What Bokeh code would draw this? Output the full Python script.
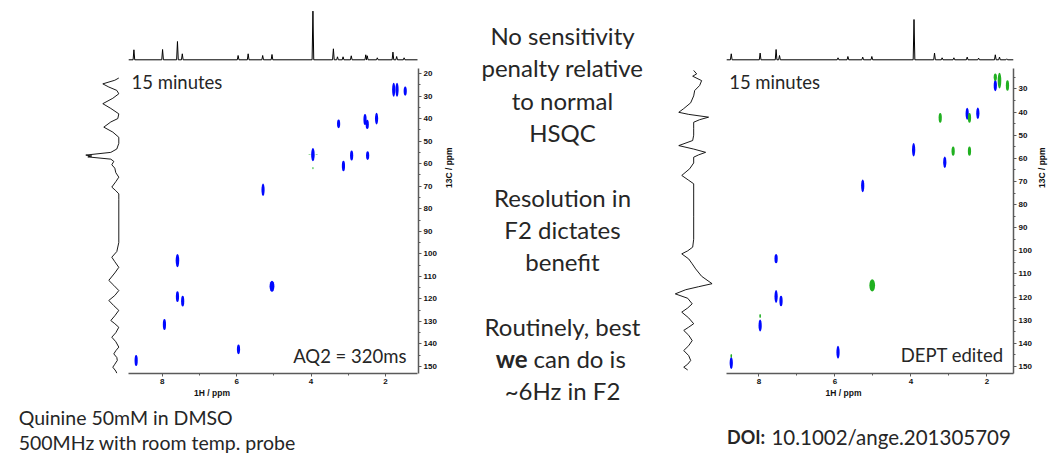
import numpy as np
from bokeh.plotting import figure
from bokeh.models import Range1d, LinearAxis, SingleIntervalTicker
from bokeh.layouts import row, column
from bokeh.embed import file_html
from bokeh.resources import INLINE
from bokeh.core.properties import value

# ------------------------------------------------------------------
# Quinine, 50 mM in DMSO -- HSQC (left) and DEPT-edited HSQC (right)
# ------------------------------------------------------------------

# HSQC cross peaks: 1H shift, 13C shift, F2 extent, F1 extent (ppm)
hsqc_h = [3.26, 2.55, 2.49, 2.24, 3.95, 2.91, 3.13, 2.48, 5.29, 1.78, 1.69, 1.47,
          7.59, 7.59, 7.45, 7.94, 8.70, 5.95, 5.05]
hsqc_c = [42.3, 40.4, 42.6, 40.0, 56.0, 56.4, 61.0, 56.4, 71.6, 27.2, 27.2, 27.8,
          103.0, 119.0, 121.0, 131.4, 147.3, 142.4, 114.4]
hsqc_dh = [0.085, 0.085, 0.085, 0.085, 0.095, 0.085, 0.085, 0.085, 0.085, 0.085, 0.085, 0.085,
           0.095, 0.085, 0.085, 0.085, 0.085, 0.085, 0.13]
hsqc_dc = [3.9, 4.9, 4.1, 5.2, 5.8, 4.4, 4.7, 3.9, 5.5, 6.2, 6.2, 4.1,
           5.9, 4.7, 4.7, 4.9, 4.9, 4.3, 4.9]
# weak negative artefacts around the OCH3 peak
hsqc_neg_h = [4.04, 3.85, 3.95]
hsqc_neg_c = [56.0, 56.0, 62.0]
hsqc_neg_dh = [0.07, 0.07, 0.04]
hsqc_neg_dc = [0.4, 0.4, 1.0]

# DEPT-edited: CH / CH3 (positive, blue)
dept_pos_h = [1.78, 2.52, 2.24, 3.93, 3.11, 5.27, 7.55, 7.55, 7.42, 7.97, 5.92, 8.73]
dept_pos_c = [28.5, 40.7, 40.5, 56.3, 61.7, 71.9, 103.4, 119.7, 121.7, 132.3, 143.8, 148.5]
dept_pos_dh = [0.085] * 12
dept_pos_dc = [4.9, 5.2, 4.9, 5.8, 5.0, 5.5, 4.0, 5.5, 4.6, 5.2, 5.5, 5.2]
# DEPT-edited: CH2 (negative, green)
dept_neg_h = [1.78, 1.67, 1.46, 3.23, 2.46, 2.89, 2.46, 5.02, 7.97, 8.73]
dept_neg_c = [24.9, 26.4, 28.5, 42.5, 42.5, 56.9, 56.9, 114.9, 128.2, 145.4]
dept_neg_dh = [0.085, 0.095, 0.085, 0.085, 0.085, 0.085, 0.085, 0.15, 0.045, 0.045]
dept_neg_dc = [3.2, 6.9, 4.6, 4.3, 4.3, 4.0, 4.0, 5.3, 1.7, 1.7]

# 1H (F2) projections: peak shifts and heights
f2_left_ppm = [8.76, 7.99, 7.59, 7.46, 5.96, 5.69, 5.30, 5.05, 3.95, 3.40, 3.29,
               3.14, 2.92, 2.53, 2.49, 2.22, 1.80, 1.70, 1.50]
f2_left_int = [10.0, 10.3, 18.3, 6.0, 4.3, 6.0, 4.3, 5.3, 48.7, 11.0, 3.0,
               3.0, 4.0, 5.0, 4.0, 2.0, 7.7, 3.3, 2.0]
f2_right_ppm = [8.73, 7.97, 7.55, 7.46, 5.92, 5.66, 5.27, 5.03, 3.92, 3.38, 3.18,
                2.87, 2.52, 2.22, 1.78, 1.67, 1.48]
f2_right_int = [6.0, 6.7, 10.3, 4.3, 2.0, 3.3, 2.7, 3.3, 40.3, 6.7, 2.0,
                2.0, 2.7, 1.7, 5.0, 2.7, 1.0]

# 13C (F1) projections: shift and intensity
f1_left_ppm = [22.0, 23.0, 24.6, 26.0, 27.5, 29.0, 31.0, 33.4, 35.5, 37.9, 40.0, 41.5,
               43.8, 46.0, 48.3, 51.0, 53.5, 55.0, 56.2, 56.6, 57.0, 58.0, 59.0, 60.5,
               62.0, 64.0, 66.0, 68.0, 70.4, 72.0, 73.4, 76.0, 85.0, 95.0, 99.0, 101.5,
               103.5, 106.0, 108.5, 111.8, 114.0, 116.3, 118.5, 120.7, 123.0, 125.1,
               127.5, 129.6, 131.0, 132.6, 135.0, 137.0, 139.0, 141.4, 143.0, 144.4,
               146.0, 147.3, 149.0, 150.3, 152.0, 153.0]
f1_left_int = [0, 4, 16, 10, 2, 0, 6, 16, 8, 0, 1, 8,
               15, 6, 0, 0, 2, 8, 33, 27, 31, 8, 5, 7,
               4, 3, 0, 3, 7, 3, 0, 0, 0, 0, 2, 7,
               4, 0, 4, 10, 5, 0, 4, 10, 5, 0,
               4, 8, 4, 0, 3, 7, 3, 0, 3, 5,
               2, 1.5, 4, 6, 3, 2]
f1_right_ppm = [22.0, 23.5, 24.5, 26.4, 28.5, 30.7, 33.0, 36.0, 38.5, 40.1, 41.0, 42.2,
                43.3, 44.4, 47.0, 50.0, 52.3, 54.5, 56.0, 57.4, 58.5, 59.5, 62.0, 64.5,
                67.4, 69.5, 71.0, 75.0, 85.0, 95.0, 98.4, 100.0, 101.3, 103.5, 105.6,
                107.8, 111.0, 114.2, 115.5, 116.8, 118.6, 120.5, 122.9, 124.7, 126.5,
                129.0, 131.5, 133.0, 134.4, 136.5, 138.8, 141.0, 143.1, 145.3, 147.4,
                149.0, 150.3, 151.5]
f1_right_int = [0, -3, 1, -8, -6, -1, 0, 3, 10, 15, 5, -15,
                -6, 0, 0, 0, 1, 15, 0, -12, -5, 0, 0, 4,
                12, 5, 0, 0, 0, 0, 1, 6, 12, 5, 1.5,
                -2, -8, -18.5, -5, 8, 18.5, 6, 1.5, 6, 12,
                5, 0, 5, 10, 5, 1.5, 5, 10, 5, 3,
                6, 10, 6]

# spectral windows shown on each panel (1H, 13C)
left_f2_lim, left_f1_lim = (1.14, 8.90), (17.8, 153.1)
right_f2_lim, right_f1_lim = (1.30, 8.85), (21.3, 153.0)

mid_lines = ["No sensitivity", "penalty relative", "to normal", "HSQC", "",
             "Resolution in", "F2 dictates", "benefit", "",
             "Routinely, best", None, "~6Hz in F2"]
mid_mixed = ("we", "can do is")

# ------------------------------------------------------------------
TEXT = "#262626"
BLUE = "#0008ff"
GREEN = "#20b020"
AXIS = "#5a5a5a"
BODY_FONT = "Lato"
AX_FONT = "Liberation Sans"
PANEL_H = 405
NOTE_H = 458 - PANEL_H
FRAME_T, FRAME_B = 2, 373


def lin_range(v1, p1, v2, p2, pa, pb):
    k = (v2 - v1) / (p2 - p1)
    return Range1d(v1 + (pa - p1) * k, v1 + (pb - p1) * k)


def stick_trace(ppm, inten, lim, hw=0.022):
    order = np.argsort(ppm)[::-1]
    xs, ys = [lim[1]], [0.0]
    for i in order:
        xs += [ppm[i] + hw, ppm[i], ppm[i] - hw]
        ys += [0.0, inten[i], 0.0]
    xs.append(lim[0])
    ys.append(0.0)
    return xs, ys


def style_axis(ax, label):
    ax.axis_label = label
    ax.axis_line_color = AXIS
    ax.axis_line_width = 1.5
    ax.major_tick_line_color = AXIS
    ax.minor_tick_line_color = AXIS
    ax.major_tick_in = 0
    ax.major_tick_out = 3
    ax.minor_tick_in = 0
    ax.minor_tick_out = 2
    ax.major_label_standoff = 2
    ax.major_label_text_font = AX_FONT
    ax.major_label_text_font_style = "bold"
    ax.major_label_text_font_size = "8px"
    ax.major_label_text_color = "#111111"
    ax.axis_label_text_font = AX_FONT
    ax.axis_label_text_font_style = "bold"
    ax.axis_label_text_font_size = "8.5px"
    ax.axis_label_text_color = "#111111"


def panel(width, frame_l, frame_r, f2_anchor, f1_anchor, f2_lim, f1_lim,
          top_base, side_base, f1_label_standoff):
    p = figure(width=width, height=PANEL_H, output_backend="svg",
               toolbar_location=None, x_axis_location=None, y_axis_location=None,
               min_border_left=frame_l, min_border_right=width - frame_r,
               min_border_top=FRAME_T, min_border_bottom=PANEL_H - FRAME_B)
    p.outline_line_color = None
    p.grid.visible = False
    (h1, px1), (h2, px2) = f2_anchor
    (c1, py1), (c2, py2) = f1_anchor
    p.x_range = lin_range(h1, px1, h2, px2, frame_l, frame_r)
    p.y_range = lin_range(c1, py1, c2, py2, FRAME_B, FRAME_T)
    p.extra_y_ranges = {
        "proj_top": lin_range(0, top_base, 1, top_base - 1, FRAME_B, FRAME_T),
        "py": Range1d(FRAME_B, FRAME_T),
    }
    p.extra_x_ranges = {
        "proj_side": lin_range(0, side_base, 1, side_base - 1, frame_l, frame_r),
        "px": Range1d(frame_l, frame_r),
    }

    xax = LinearAxis(bounds=tuple(f2_lim),
                     ticker=SingleIntervalTicker(interval=2, num_minor_ticks=2))
    style_axis(xax, "1H / ppm")
    xax.axis_label_standoff = 1
    p.add_layout(xax, "below")

    yax = LinearAxis(bounds=tuple(f1_lim),
                     ticker=SingleIntervalTicker(interval=10, num_minor_ticks=2))
    style_axis(yax, "13C / ppm")
    yax.axis_label_standoff = f1_label_standoff
    yax.axis_label_orientation = np.pi / 2
    p.add_layout(yax, "right")
    return p


def draw_peaks(p, h, c, dh, dc, color, alpha=1.0):
    p.ellipse(x=h, y=c, width=dh, height=dc, fill_color=color, line_color=None,
              fill_alpha=alpha)


def panel_text(p, x, y, txt, align="left", size="18px"):
    p.text(x=[x], y=[y], text=[txt], x_range_name="px", y_range_name="py",
           text_align=align, text_baseline="middle", text_font=value(BODY_FONT),
           text_font_size=size, text_color=TEXT)


# ---------------- left panel: HSQC ----------------
left = panel(470, 5, 418, ((8, 161.7), (2, 385.0)), ((20, 73.0), (150, 366.0)),
             left_f2_lim, left_f1_lim, 59.3, 118.3, 9)
xs, ys = stick_trace(f2_left_ppm, f2_left_int, left_f2_lim)
left.line(xs, ys, y_range_name="proj_top", line_color="black", line_width=1)
left.line(f1_left_int, f1_left_ppm, x_range_name="proj_side", line_color="black",
          line_width=0.9)
draw_peaks(left, hsqc_h, hsqc_c, hsqc_dh, hsqc_dc, BLUE)
draw_peaks(left, hsqc_neg_h, hsqc_neg_c, hsqc_neg_dh, hsqc_neg_dc, GREEN, 0.7)
panel_text(left, 131, 81.7, "15 minutes", size="18.5px")
panel_text(left, 406, 355, "AQ2 = 320ms", align="right", size="18.5px")

# ---------------- right panel: DEPT-edited HSQC ----------------
RX = 672
right = panel(382, 1, 1015 - RX, ((8, 759 - RX), (2, 988.3 - RX)),
              ((50, 134.7), (150, 366.0)), right_f2_lim, right_f1_lim,
              59.3, 693.3 - RX, 7)
xs, ys = stick_trace(f2_right_ppm, f2_right_int, right_f2_lim)
right.line(xs, ys, y_range_name="proj_top", line_color="black", line_width=1)
right.line(f1_right_int, f1_right_ppm, x_range_name="proj_side", line_color="black",
           line_width=0.9)
draw_peaks(right, dept_pos_h, dept_pos_c, dept_pos_dh, dept_pos_dc, BLUE)
draw_peaks(right, dept_neg_h, dept_neg_c, dept_neg_dh, dept_neg_dc, GREEN)
panel_text(right, 729 - RX, 81.0, "15 minutes", size="18.5px")
panel_text(right, 1005 - RX, 354, "DEPT edited", align="right", size="18.5px")


# ---------------- text blocks ----------------
def text_canvas(w, h):
    p = figure(width=w, height=h, output_backend="svg", toolbar_location=None,
               x_axis_location=None, y_axis_location=None, min_border=0,
               x_range=Range1d(0, w), y_range=Range1d(h, 0))
    p.outline_line_color = None
    p.grid.visible = False
    return p


MID_X0 = 470
mid = text_canvas(672 - MID_X0, 458)
cx = 562 - MID_X0
for i, line in enumerate(mid_lines):
    y = 35 + i * 32.3
    if line is None:
        x0 = 527 - MID_X0
        mid.text(x=[x0], y=[y], text=[mid_mixed[0]], text_align="right",
                 text_baseline="middle", text_font=value(BODY_FONT),
                 text_font_style="bold", text_font_size="24px", text_color=TEXT)
        mid.text(x=[x0 + 6], y=[y], text=[mid_mixed[1]], text_align="left",
                 text_baseline="middle", text_font=value(BODY_FONT),
                 text_font_size="24px", text_color=TEXT)
    elif line:
        mid.text(x=[cx], y=[y], text=[line], text_align="center",
                 text_baseline="middle", text_font=value(BODY_FONT),
                 text_font_size="24px", text_color=TEXT)

left_note = text_canvas(470, NOTE_H)
for i, line in enumerate(["Quinine 50mM in DMSO", "500MHz with room temp. probe"]):
    left_note.text(x=[15], y=[11.7 + 25 * i], text=[line], text_baseline="middle",
                   text_font=value(BODY_FONT), text_font_size="19.5px", text_color=TEXT)

right_note = text_canvas(382, NOTE_H)
right_note.text(x=[775 - RX], y=[31], text=["DOI:"], text_align="right",
                text_baseline="middle", text_font=value(BODY_FONT),
                text_font_style="bold", text_font_size="18px", text_color=TEXT)
right_note.text(x=[782 - RX], y=[31], text=["10.1002/ange.201305709"],
                text_align="left", text_baseline="middle", text_font=value(BODY_FONT),
                text_font_size="20.5px", text_color=TEXT)

layout = row(column(left, left_note), mid, column(right, right_note))
open("out.html", "w").write(file_html(layout, INLINE))
